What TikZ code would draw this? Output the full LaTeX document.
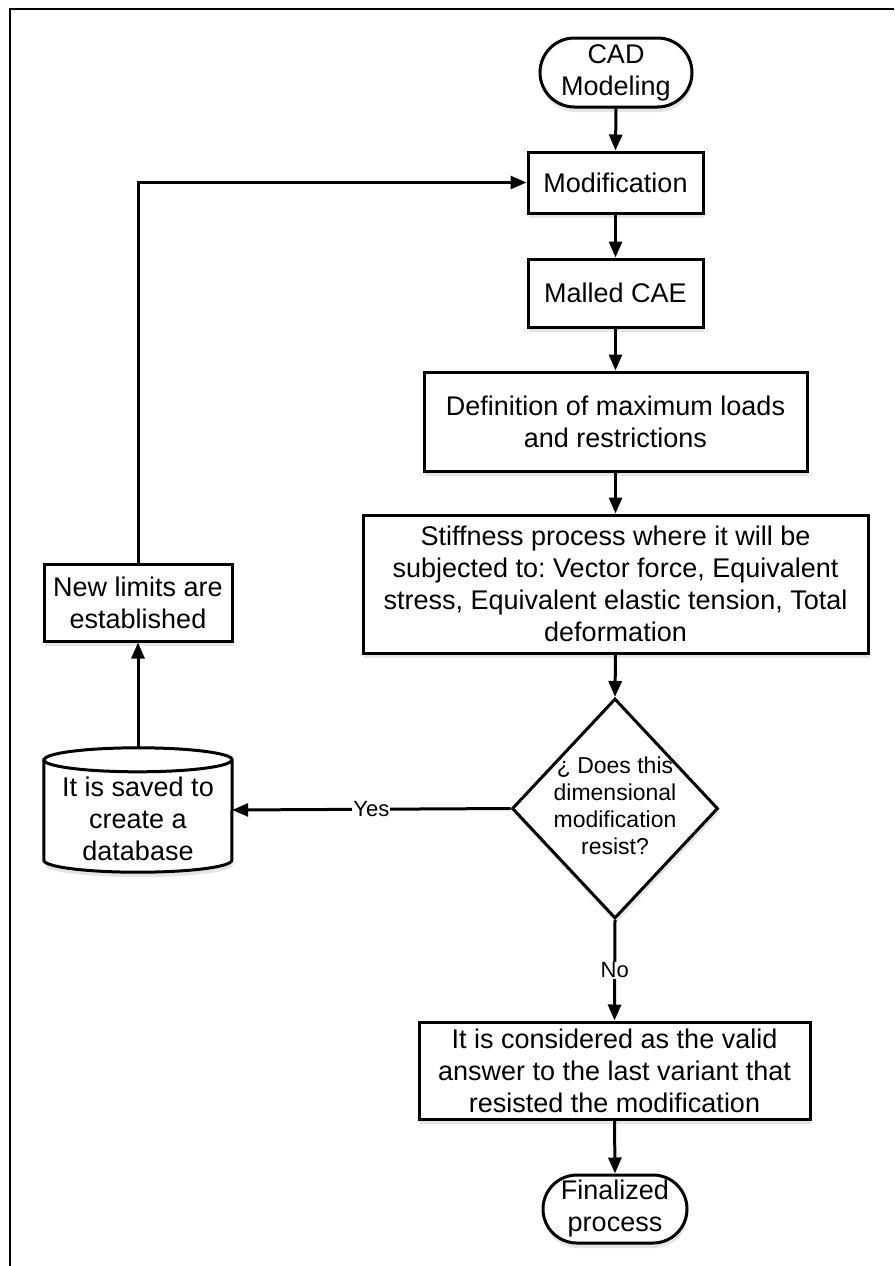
\documentclass[tikz,border=0pt]{standalone}
\usepackage{fontspec}
\setmainfont{Liberation Sans}
\usetikzlibrary{shapes.geometric,shapes.misc,arrows.meta,shadows}
\frenchspacing
\begin{document}
\begin{tikzpicture}[x=1pt,y=1pt,
  line/.style={line width=3pt, draw=black},
  shad/.style={drop shadow={shadow xshift=1pt, shadow yshift=-5pt, opacity=0.10, fill=black}},
  txt/.style={font=\fontsize{27}{32}\selectfont, align=center, inner sep=0pt},
  procbox/.style={txt, rectangle, line, fill=white, shad},
  termbox/.style={txt, rounded rectangle, line, fill=white, shad},
  arr/.style={line, -{Triangle[length=16pt,width=13pt]}},
  lbl/.style={font=\fontsize{22}{26}\selectfont, fill=white, inner sep=1pt}
]
\useasboundingbox (0,0) rectangle (894,-1266);
\fill[white] (0,0) rectangle (894,-1266);
% frame (left and top edges)
\coordinate (fbl) at (9.5,-1266);
\coordinate (ftl) at (9.5,-8.5);
\coordinate (ftr) at (894,-8.5);
\draw[line width=2pt] (fbl) -- (ftl) -- (ftr);

% main column
\node[termbox, minimum width=152pt, minimum height=69pt] (cad) at (616,-72.5) {CAD\\Modeling};
\node[procbox, minimum width=175pt, minimum height=61pt] (mod) at (615.5,-182.5) {Modification};
\node[procbox, minimum width=175pt, minimum height=68pt] (cae) at (615.5,-293) {Malled CAE};
\node[procbox, minimum width=383pt, minimum height=99pt] (def) at (615.5,-421.5) {Definition of maximum loads\\and restrictions};
\node[procbox, minimum width=505pt, minimum height=138pt] (stiff) at (615.5,-584) {Stiffness process where it will be\\subjected to: Vector force, Equivalent\\stress, Equivalent elastic tension, Total\\deformation};
\node[diamond, line, fill=white, shad, minimum width=206pt, minimum height=220pt, inner sep=0pt] (dec) at (615,-808.5) {};
\node[font=\fontsize{23}{27}\selectfont, align=center, inner sep=0pt] (dectext) at (615,-806) {¿ Does this\\dimensional\\modification\\resist?};
\node[procbox, minimum width=391pt, minimum height=97pt] (valid) at (614.5,-1070.5) {It is considered as the valid\\answer to the last variant that\\resisted the modification};
\node[termbox, minimum width=144pt, minimum height=68pt] (fin) at (615,-1209) {Finalized\\process};

% left column
\node[procbox, minimum width=188pt, minimum height=77pt] (newlim) at (138,-602.5) {New limits are\\established};
\node[rectangle, minimum width=188pt, minimum height=124pt, inner sep=0pt] (db) at (138,-810) {};
\fill[black, opacity=0.10] ([xshift=1pt,yshift=-17pt]db.north west) -- ([xshift=1pt,yshift=7pt]db.south west) arc[start angle=180, end angle=360, x radius=94pt, y radius=12pt] -- ([xshift=1pt,yshift=-17pt]db.north east) -- cycle;
\draw[line, fill=white] ([yshift=-12pt]db.north west) -- ([yshift=12pt]db.south west)
  arc[start angle=180, end angle=360, x radius=94pt, y radius=12pt]
  -- ([yshift=-12pt]db.north east)
  arc[start angle=0, end angle=180, x radius=94pt, y radius=12pt] -- cycle;
\draw[line] ([yshift=-12pt]db.north west) arc[start angle=180, end angle=360, x radius=94pt, y radius=12pt];
\node[txt] (dbtext) at (138,-819) {It is saved to\\create a\\database};

% connectors
\draw[arr] (cad.south) -- (mod.north);
\draw[arr] (mod.south) -- (cae.north);
\draw[arr] (cae.south) -- (def.north);
\draw[arr] (def.south) -- (stiff.north);
\draw[arr] (stiff.south) -- (dec.north);
\draw[arr] (dec.south) -- node[lbl, pos=0.5] (nolbl) {No} (valid.north);
\draw[arr] (valid.south) -- (fin.north);
\draw[arr] (dec.west) -- node[lbl, pos=0.5] (yeslbl) {Yes} (db.east);
\draw[arr] (db.north) -- (newlim.south);
\draw[arr] (newlim.north) |- (mod.west);
\end{tikzpicture}
\end{document}
